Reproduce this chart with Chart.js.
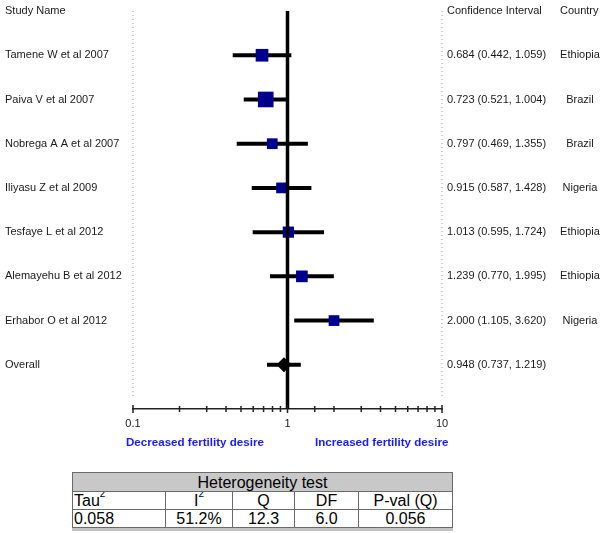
<!DOCTYPE html>
<html>
<head>
<meta charset="utf-8">
<script src="https://cdn.jsdelivr.net/npm/chart.js@4.4.0/dist/chart.umd.min.js"></script>
<style>
  html, body { margin: 0; padding: 0; background: #fff; }
  #wrap { position: relative; width: 600px; height: 533px; overflow: hidden; font-family: "Liberation Sans", Arial, sans-serif; }
  #c { position: absolute; left: 0; top: 0; }
  #het { position: absolute; left: 72px; top: 472px; border-collapse: collapse; font-size: 16px; line-height: 17px; color: #000;
         box-shadow: 0 3px 0 #c4c4c4; table-layout: fixed; }
  #het td { border: 1px solid #6a6a6a; padding: 0 1px; white-space: nowrap; overflow: hidden; }
  #het tr.h td { background: #c8c8c8; text-align: center; height: 18px; }
  #het tr.r2 td { height: 17px; text-align: center; }
  #het tr.r3 td { height: 17px; text-align: center; }
  #het tr td.l { text-align: left; }
  #het sup { font-size: 10px; line-height: 0; position: relative; top: -3px; }
</style>
</head>
<body>
<div id="wrap">
  <canvas id="c" width="600" height="460"></canvas>
  <table id="het"></table>
</div>
<script>
// ---- data ----
const studies = ['Tamene W et al 2007','Paiva V et al 2007','Nobrega A A et al 2007','Iliyasu Z et al 2009','Tesfaye L et al 2012','Alemayehu B et al 2012','Erhabor O et al 2012'];
const oddsRatio = [0.684, 0.723, 0.797, 0.915, 1.013, 1.239, 2.000];
const lowerCI   = [0.442, 0.521, 0.469, 0.587, 0.595, 0.770, 1.105];
const upperCI   = [1.059, 1.004, 1.355, 1.428, 1.724, 1.995, 3.620];
const countries = ['Ethiopia','Brazil','Brazil','Nigeria','Ethiopia','Ethiopia','Nigeria'];
const weights   = [15.9, 24.1, 11.4, 11.4, 12.4, 13.5, 11.4];
const overallLabel = 'Overall';
const overallOR = 0.948, overallLo = 0.737, overallHi = 1.219;
const xTickLabels = ['0.1', '1', '10'];
const leftLabel = 'Decreased fertility desire';
const rightLabel = 'Increased fertility desire';
const hetTitle = 'Heterogeneity test';
const hetHeaders = ['Tau<sup>2</sup>', 'I<sup>2</sup>', 'Q', 'DF', 'P-val (Q)'];
const hetValues = ['0.058', '51.2%', '12.3', '6.0', '0.056'];

// ---- heterogeneity table ----
const colW = [93, 67, 62, 64, 94];
let html = '<colgroup>' + colW.map(w => '<col style="width:' + w + 'px">').join('') + '</colgroup>';
html += '<tr class="h"><td colspan="5">' + hetTitle + '</td></tr>';
html += '<tr class="r2">' + hetHeaders.map((h, i) => '<td' + (i === 0 ? ' class="l"' : '') + '>' + h + '</td>').join('') + '</tr>';
html += '<tr class="r3">' + hetValues.map((v, i) => '<td' + (i === 0 ? ' class="l"' : '') + '>' + v + '</td>').join('') + '</tr>';
document.getElementById('het').innerHTML = html;

// ---- datasets ----
const nRows = studies.length;       // overall row at index nRows
const datasets = [];
// dotted boundary lines
[0.1, 10].forEach(v => datasets.push({
  data: [{x: v, y: -1}, {x: v, y: nRows + 0.75}], showLine: true, borderColor: '#9a9a9a',
  borderWidth: 1, borderDash: [1, 3], pointRadius: 0, clip: false, order: 5
}));
// CI lines
studies.forEach((s, i) => datasets.push({
  data: [{x: lowerCI[i], y: i}, {x: upperCI[i], y: i}], showLine: true, borderColor: '#000',
  borderWidth: 4, borderCapStyle: 'butt', pointRadius: 0, clip: false, order: 3
}));
datasets.push({
  data: [{x: overallLo, y: nRows}, {x: overallHi, y: nRows}], showLine: true, borderColor: '#000',
  borderWidth: 4, borderCapStyle: 'butt', pointRadius: 0, clip: false, order: 3
});
// point estimates
datasets.push({
  data: oddsRatio.map((v, i) => ({x: v, y: i})), pointStyle: 'rect',
  pointRadius: weights.map(w => 2.25 * Math.sqrt(w)), backgroundColor: '#00008f',
  borderColor: '#00008f', borderWidth: 0, clip: false, order: 2
});
datasets.push({
  data: [{x: overallOR, y: nRows}], pointStyle: 'rectRot', pointRadius: 7.5,
  backgroundColor: '#000', borderColor: '#000', borderWidth: 0, clip: false, order: 2
});
// reference line at 1
datasets.push({
  data: [{x: 1, y: -1}, {x: 1, y: nRows + 1}], showLine: true, borderColor: '#000',
  borderWidth: 3.5, borderCapStyle: 'butt', pointRadius: 0, clip: false, order: 1
});

const isDecade = v => Math.abs(Math.log10(v) - Math.round(Math.log10(v))) < 1e-6;

const textPlugin = {
  id: 'forestText',
  afterDraw(chart) {
    const ctx = chart.ctx, xs = chart.scales.x, ys = chart.scales.y;
    ctx.save();
    // axis tick marks crossing the axis line
    const ay = chart.chartArea.bottom;
    ctx.strokeStyle = '#222'; ctx.lineWidth = 1.5;
    xs.ticks.forEach(t => {
      const px = xs.getPixelForValue(t.value);
      const h = isDecade(t.value) ? 4 : 3;
      ctx.beginPath(); ctx.moveTo(px, ay - h); ctx.lineTo(px, ay + h); ctx.stroke();
    });
    // texts
    ctx.fillStyle = '#1a1a1a';
    ctx.font = '11px "Liberation Sans", Arial, sans-serif';
    ctx.textBaseline = 'middle';
    const hy = ys.getPixelForValue(-1);
    ctx.textAlign = 'left';
    ctx.fillText('Study Name', 5, hy);
    ctx.fillText('Confidence Interval', 447, hy);
    ctx.fillText('Country', 560, hy);
    studies.forEach((s, i) => {
      const y = ys.getPixelForValue(i);
      ctx.textAlign = 'left';
      ctx.fillText(s, 5, y);
      ctx.fillText(oddsRatio[i].toFixed(3) + ' (' + lowerCI[i].toFixed(3) + ', ' + upperCI[i].toFixed(3) + ')', 447, y);
      ctx.textAlign = 'center';
      ctx.fillText(countries[i], 580, y);
    });
    const oy = ys.getPixelForValue(nRows);
    ctx.textAlign = 'left';
    ctx.fillText(overallLabel, 5, oy);
    ctx.fillText(overallOR.toFixed(3) + ' (' + overallLo.toFixed(3) + ', ' + overallHi.toFixed(3) + ')', 447, oy);
    // direction labels
    ctx.fillStyle = '#1a1aff';
    ctx.font = 'bold 11.6px "Liberation Sans", Arial, sans-serif';
    ctx.fillText(leftLabel, 126, 443);
    ctx.fillText(rightLabel, 315, 443);
    ctx.restore();
  }
};

new Chart(document.getElementById('c'), {
  type: 'scatter',
  data: { datasets },
  options: {
    responsive: false, animation: false, devicePixelRatio: 1, events: [],
    layout: { padding: { left: 133, right: 158, top: 7, bottom: 11 } },
    plugins: { legend: { display: false }, tooltip: { enabled: false } },
    scales: {
      x: {
        type: 'logarithmic', min: 0.1, max: 10,
        afterFit: s => { s.height = 40; },
        grid: { display: false, drawTicks: false },
        border: { display: true, color: '#222', width: 1.5 },
        ticks: {
          autoSkip: false, maxRotation: 0, padding: 8, color: '#1a1a1a',
          font: { family: '"Liberation Sans", Arial, sans-serif', size: 11 },
          callback: (v) => {
            if (!isDecade(v)) return '';
            const k = Math.round(Math.log10(v)) + 1;
            return xTickLabels[k] !== undefined ? xTickLabels[k] : '';
          }
        }
      },
      y: { type: 'linear', min: -1, max: nRows + 1, reverse: true, display: false }
    }
  },
  plugins: [textPlugin]
});
</script>
</body>
</html>
